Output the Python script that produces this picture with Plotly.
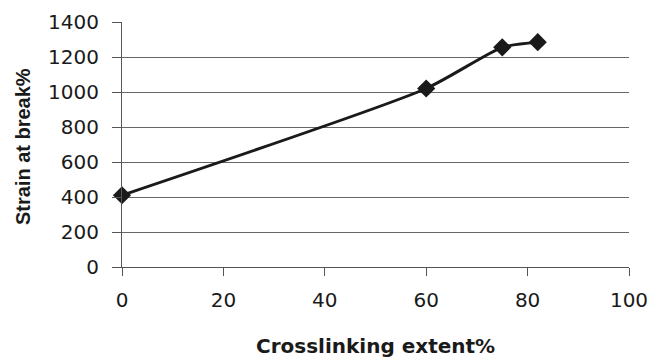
import plotly.graph_objects as go

crosslinking = [0, 60, 75, 82]
strain = [410, 1020, 1255, 1285]
x_ticks = [0, 20, 40, 60, 80, 100]
y_ticks = [0, 200, 400, 600, 800, 1000, 1200, 1400]

fig = go.Figure()
fig.add_trace(go.Scatter(
    x=crosslinking, y=strain, mode="lines+markers",
    line=dict(color="#1a1a1a", width=3, shape="spline", smoothing=0.6),
    marker=dict(symbol="diamond", size=14, color="#1a1a1a"),
    cliponaxis=False, showlegend=False,
))

tick_font = dict(family="DejaVu Sans, sans-serif", size=20, color="#1a1a1a")

fig.update_layout(
    width=659, height=360,
    margin=dict(l=122, r=30, t=22, b=93),
    paper_bgcolor="white", plot_bgcolor="white",
    font=dict(family="Liberation Sans, Arial, sans-serif", size=19, color="#1a1a1a"),
    annotations=[
        dict(text="<b>Crosslinking extent%</b>", xref="paper", yref="paper",
             x=0.5, y=-0.322, xanchor="center", yanchor="middle", showarrow=False,
             font=dict(family="DejaVu Sans, sans-serif", size=20, color="#1a1a1a")),
        dict(text="<b>Strain at break%</b>", xref="paper", yref="paper",
             x=-0.195, y=0.49, xanchor="center", yanchor="middle", showarrow=False,
             textangle=-90,
             font=dict(family="Liberation Sans, Arial, sans-serif", size=20, color="#1a1a1a")),
    ],
)
fig.update_xaxes(
    range=[0, 100], tickvals=x_ticks, ticks="outside", ticklen=8, tickcolor="#555",
    showline=True, linecolor="#555", linewidth=1, showgrid=False, zeroline=False,
    tickfont=tick_font, ticklabelstandoff=7, automargin=False,
)
fig.update_yaxes(
    range=[0, 1400], tickvals=y_ticks, ticks="outside", ticklen=9, tickcolor="#555",
    showline=True, linecolor="#555", linewidth=1, showgrid=True, gridcolor="#666",
    gridwidth=1, zeroline=False,
    tickfont=tick_font, ticklabelstandoff=9, automargin=False,
)
fig.write_html("out.html")
